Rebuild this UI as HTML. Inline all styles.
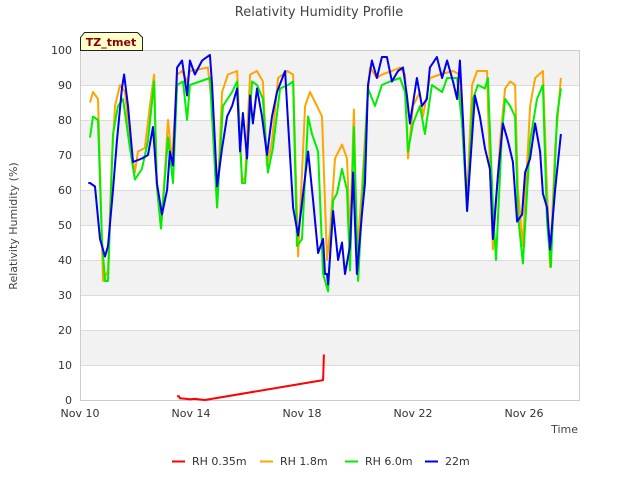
<!DOCTYPE html>
<html><head><meta charset="utf-8"><style>
body{margin:0;background:#fff;font-family:"Liberation Sans","DejaVu Sans",sans-serif}
text{font-family:"DejaVu Sans","Liberation Sans",sans-serif}
</style></head><body>
<svg id="chart" width="640" height="480" xmlns="http://www.w3.org/2000/svg">
<g id="bands"></g>
<text x="319" y="16" text-anchor="middle" font-size="13" fill="#444">Relativity Humidity Profile</text>
<text transform="translate(17,226) rotate(-90)" text-anchor="middle" font-size="11" fill="#444">Relativity Humidity (%)</text>
<text x="578" y="433" text-anchor="end" font-size="11" fill="#444">Time</text>
<g id="axes"></g>
<g id="series"></g>
<g>
<path d="M80.5,50.5 L80.5,37.5 L84.5,32.5 L137.5,32.5 L142.5,37.5 L142.5,50.5 Z" fill="#ffffcc" stroke="#222"/>
<text x="111" y="46" text-anchor="middle" font-size="11" font-weight="bold" fill="#8b0000">TZ_tmet</text>
</g>
<g id="legend"></g>
</svg>
<script>
const xTickLabels=["Nov 10","Nov 14","Nov 18","Nov 22","Nov 26"];
const xTickDays=[0,4,8,12,16];
const yTicks=[0,10,20,30,40,50,60,70,80,90,100];
const seriesNames=["RH 0.35m","RH 1.8m","RH 6.0m","22m"];
const seriesColors=["#ff0000","#ffa500","#00ee00","#0000ee"];
const redT=[3.5,3.57,3.6,3.96,4.14,4.5,8.76,8.79];
const redV=[1.2,1,0.5,0.2,0.3,0,5.7,13];
const orangeT=[.36,.47,.65,.79,.83,1.01,1.15,1.26,1.44,1.62,1.8,1.98,2.09,2.34,2.52,2.67,2.77,2.92,3.06,3.17,3.32,3.5,3.68,3.86,3.96,4.61,4.76,4.94,5.12,5.33,5.66,5.84,5.95,6.13,6.38,6.59,6.74,6.92,7.14,7.46,7.68,7.86,8.11,8.29,8.54,8.72,8.9,9.01,9.19,9.44,9.62,9.73,9.87,9.98,10.16,10.34,10.45,10.7,10.88,11.24,11.53,11.71,11.82,12.0,12.25,12.36,12.61,12.97,13.44,13.69,13.8,13.95,14.13,14.31,14.67,14.7,14.88,15.14,15.32,15.5,15.68,15.78,15.96,16.22,16.4,16.68,16.83,16.94,17.12,17.33];
const orangeV=[85,88,86,46,34,37,69,84,90,88,74,65,71,72,84,93,61,49,65,80,68,93,94,91,94,95,84,55,88,93,94,62,64,93,94,91,67,74,92,94,93,41,84,88,84,81,40,48,69,73,69,46,83,41,60,84,95,92,93,94,95,93,69,84,88,81,92,93,94,93,74,58,90,94,94,84,43,74,89,91,90,60,44,84,92,94,60,38,72,92];
const greenT=[.36,.47,.65,.79,.9,1.01,1.19,1.37,1.55,1.8,1.98,2.23,2.45,2.67,2.77,2.92,3.17,3.35,3.5,3.71,3.86,3.96,4.68,4.94,5.15,5.48,5.66,5.84,5.95,6.2,6.38,6.59,6.77,6.95,7.21,7.5,7.68,7.82,8.0,8.22,8.36,8.58,8.76,8.94,9.12,9.26,9.44,9.62,9.73,9.87,10.02,10.2,10.38,10.63,10.88,11.17,11.53,11.71,11.82,12.0,12.25,12.43,12.68,13.05,13.23,13.59,13.77,13.95,14.16,14.34,14.59,14.7,14.88,14.99,15.21,15.32,15.5,15.68,15.78,15.96,16.22,16.47,16.68,16.83,16.97,17.19,17.33];
const greenV=[75,81,80,46,34,34,76,84,86,72,63,66,74,91,61,49,75,62,90,91,80,90,92,55,84,88,91,62,62,91,90,86,65,72,89,90,91,44,46,81,76,71,36,31,57,59,66,60,37,78,34,61,89,84,90,91,92,88,71,79,84,76,90,88,92,92,79,54,86,90,89,92,55,40,77,86,84,81,53,39,74,86,90,51,38,81,89];
const blueT=[.3,.36,.54,.72,.9,1.01,1.19,1.33,1.51,1.59,1.73,1.91,2.23,2.45,2.63,2.77,2.95,3.14,3.24,3.35,3.5,3.68,3.86,3.96,4.14,4.4,4.68,4.76,4.94,5.12,5.3,5.48,5.66,5.77,5.87,6.02,6.13,6.23,6.38,6.56,6.74,6.92,7.1,7.39,7.5,7.68,7.86,8.04,8.22,8.4,8.58,8.76,8.83,8.9,8.94,9.12,9.3,9.44,9.55,9.73,9.84,9.98,10.16,10.27,10.38,10.52,10.7,10.88,11.06,11.24,11.46,11.64,11.78,11.89,12.14,12.32,12.5,12.61,12.86,13.05,13.23,13.44,13.59,13.69,13.8,13.95,14.05,14.23,14.41,14.59,14.77,14.88,15.06,15.24,15.42,15.6,15.75,15.93,16.04,16.22,16.4,16.58,16.68,16.83,16.94,17.12,17.33];
const blueV=[62,62,61,46,41,44,60,74,89,93,84,68,69,70,78,62,53,60,71,67,95,97,87,97,93,97,98.6,90,61,72,81,84,89,71,82,69,87,79,89,81,70,81,88,94,79,55,47,59,71,57,42,46,36,36,33,54,40,45,36,44,65,36,53,62,90,97,92,98,98,91,94,95,87,79,92,84,86,95,98,92,97,91,86,97,80,54,66,87,81,72,66,46,64,79,74,68,51,53,65,69,79,71,59,55,43,60,76];

const L=80,R=580,T=50,B=400,dayPx=27.75;
const xs=d=>L+d*dayPx, ys=v=>B-(v/100)*(B-T);
const NS="http://www.w3.org/2000/svg";
function mk(tag,attrs,parent){const e=document.createElementNS(NS,tag);for(const k in attrs)e.setAttribute(k,attrs[k]);parent.appendChild(e);return e;}
const bands=document.getElementById('bands'),axes=document.getElementById('axes'),ser=document.getElementById('series'),leg=document.getElementById('legend');
for(let i=0;i<yTicks.length-1;i++){
 if(i%2===1){const r=mk('rect',{x:L,y:ys(yTicks[i+1]),width:R-L,height:ys(yTicks[i])-ys(yTicks[i+1]),fill:'#f2f2f2'},bands);
 
 }
}
yTicks.forEach(v=>{
 const g=mk('line',{x1:L,x2:R,y1:ys(v)+.5,y2:ys(v)+.5,stroke:'#dcdcdc'},axes);
 
 
 const t=mk('text',{x:L-8,y:ys(v)+4,'text-anchor':'end','font-size':11,fill:'#333'},axes);t.textContent=v;
 
 
});
const fr=mk('rect',{x:L+.5,y:T+.5,width:R-L-1,height:B-T,fill:'none',stroke:'#ccc'},axes);


xTickDays.forEach((d,i)=>{
 const t=mk('text',{x:xs(d),y:417,'text-anchor':'middle','font-size':11,fill:'#333'},axes);t.textContent=xTickLabels[i];
 
 
});
const all=[[redT,redV],[orangeT,orangeV],[greenT,greenV],[blueT,blueV]];
const names=['series-rh-035m','series-rh-18m','series-rh-60m','series-22m'];
all.forEach((s,i)=>{
 const d=s[0].map((t,j)=>(j?'L':'M')+xs(t).toFixed(1)+','+ys(s[1][j]).toFixed(1)).join(' ');
 const p=mk('path',{d:d,fill:'none',stroke:seriesColors[i],'stroke-width':2,'stroke-linejoin':'round'},ser);
 
 
});
const lx=[172,260,345,425];
seriesNames.forEach((n,i)=>{
 const g=mk('g',{},leg);
 
 
 mk('line',{x1:lx[i],x2:lx[i]+13,y1:461.5,y2:461.5,stroke:seriesColors[i],'stroke-width':2},g);
 const t=mk('text',{x:lx[i]+20,y:465,'font-size':11,fill:'#333'},g);t.textContent=n;
});
</script>
</body></html>
